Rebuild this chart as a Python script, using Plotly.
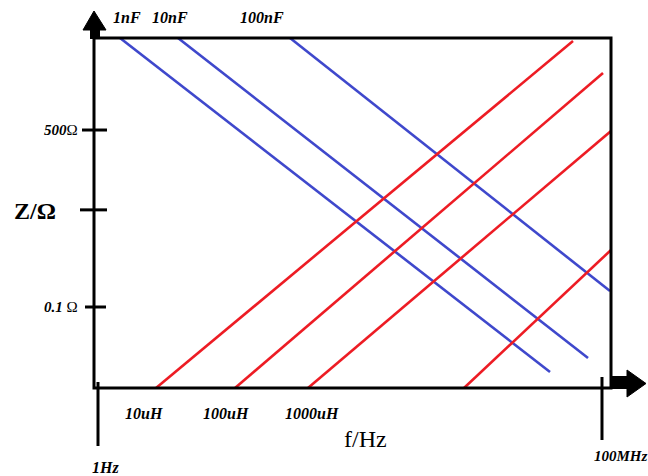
import math
import plotly.graph_objects as go

# ---- data (log10 units: x = log10(f/Hz), y = log10(Z/Ohm)) ----
cap_labels = ["1nF", "10nF", "100nF"]
cap_x0 = [0.349, 1.270, 3.048]
cap_x1 = [7.175, 7.778, 8.127]
cap_y0 = [4.622, 4.622, 4.622]
cap_y1 = [-2.358, -2.066, -0.666]

ind_labels = ["10uH", "100uH", "1000uH", ""]
ind_x0 = [0.921, 2.175, 3.333, 5.810]
ind_x1 = [7.540, 8.016, 8.143, 8.143]
ind_y0 = [-2.693, -2.693, -2.693, -2.693]
ind_y1 = [4.559, 3.890, 2.678, 0.191]

x_tick_vals = [0.0, 8.0]
x_tick_text = ["1Hz", "100MHz"]
y_tick_vals = [math.log10(500), 1.03, math.log10(0.1)]
y_tick_text = ["500Ω", "", "0.1 Ω"]

X_RANGE = [-0.0635, 8.143]
Y_RANGE = [-2.693, 4.622]

BLUE = "#3F48CC"
RED = "#ED1C24"

# plot-area geometry (pixels)
L, R, T, B = 94, 611, 38, 388
W, H = 648, 476


def px(x):
    return (x - L) / (R - L)


def py(y):
    return (B - y) / (B - T)


fig = go.Figure()
for i in range(len(cap_labels)):
    fig.add_trace(go.Scatter(x=[cap_x0[i], cap_x1[i]], y=[cap_y0[i], cap_y1[i]],
                             mode="lines", line=dict(color=BLUE, width=2.6),
                             name=cap_labels[i], showlegend=False, hoverinfo="skip"))
for i in range(len(ind_labels)):
    fig.add_trace(go.Scatter(x=[ind_x0[i], ind_x1[i]], y=[ind_y0[i], ind_y1[i]],
                             mode="lines", line=dict(color=RED, width=2.6),
                             name=ind_labels[i], showlegend=False, hoverinfo="skip"))

shapes = []
blk = dict(color="black", width=3)
# box
shapes.append(dict(type="rect", xref="paper", yref="paper", x0=0, x1=1, y0=0, y1=1,
                   line=blk, layer="above"))
# left axis extension up to arrow
shapes.append(dict(type="line", xref="paper", yref="paper", x0=0, x1=0, y0=1, y1=py(28),
                   line=blk))
# up arrow
up_path = "M {a},{b} L {c},{d} L {e},{f} Z".format(
    a=px(83), b=py(30), c=px(94), d=py(11), e=px(106), f=py(30))
shapes.append(dict(type="path", xref="paper", yref="paper", path=up_path,
                   fillcolor="black", line=dict(color="black", width=1)))
shapes.append(dict(type="rect", xref="paper", yref="paper", x0=px(90), x1=px(100),
                   y0=py(39), y1=py(29), fillcolor="black", line=dict(width=0)))
# right arrow
shapes.append(dict(type="rect", xref="paper", yref="paper", x0=px(611), x1=px(629),
                   y0=py(389), y1=py(376), fillcolor="black", line=dict(width=0)))
rt_path = "M {a},{b} L {c},{d} L {e},{f} Z".format(
    a=px(627), b=py(370), c=px(646), d=py(383.5), e=px(627), f=py(397))
shapes.append(dict(type="path", xref="paper", yref="paper", path=rt_path,
                   fillcolor="black", line=dict(color="black", width=1)))
# x tick marks (long verticals)
shapes.append(dict(type="line", xref="x", yref="paper", x0=x_tick_vals[0], x1=x_tick_vals[0],
                   y0=py(382), y1=py(446), line=blk))
shapes.append(dict(type="line", xref="x", yref="paper", x0=x_tick_vals[1], x1=x_tick_vals[1],
                   y0=py(377), y1=py(440), line=blk))
# y tick marks (crossing axis)
tick_ext = [(82, 107), (80, 107), (85, 106)]
for v, (a, b) in zip(y_tick_vals, tick_ext):
    shapes.append(dict(type="line", xref="paper", yref="y", x0=px(a), x1=px(b),
                       y0=v, y1=v, line=blk))

SERIF = "Liberation Serif, Times New Roman, serif"
ann = []


def label(text, x, y, size=16, xanchor="center"):
    ann.append(dict(text=text, x=px(x), y=py(y), xref="paper", yref="paper",
                    showarrow=False, xanchor=xanchor, yanchor="middle",
                    font=dict(family=SERIF, size=size, color="black")))


label("<b><i>1nF</i></b>", 127, 18)
label("<b><i>10nF</i></b>", 170, 18)
label("<b><i>100nF</i></b>", 262, 18)
label("<b><i>10uH</i></b>", 144, 413)
label("<b><i>100uH</i></b>", 226, 413)
label("<b><i>1000uH</i></b>", 312, 413)
label("f/Hz", 365, 439, size=24)
label("<b><i>" + x_tick_text[0] + "</i></b>", 105, 467)
label("<b><i>" + x_tick_text[1] + "</i></b>", 592, 456, size=15, xanchor="left")
label("<b>Z/Ω</b>", 35, 211, size=24)
label("<b><i>500</i></b>Ω", 80, 130, size=15, xanchor="right")
label("<b><i>0.1</i></b> Ω", 80, 307, size=15, xanchor="right")

fig.update_layout(
    width=W, height=H,
    margin=dict(l=L, r=W - R, t=T, b=H - B, pad=0),
    paper_bgcolor="white", plot_bgcolor="white",
    xaxis=dict(range=X_RANGE, showgrid=False, zeroline=False, showticklabels=False,
               showline=False, ticks="", fixedrange=True),
    yaxis=dict(range=Y_RANGE, showgrid=False, zeroline=False, showticklabels=False,
               showline=False, ticks="", fixedrange=True),
    shapes=shapes, annotations=ann, showlegend=False,
)

fig.write_html("out.html", config={"displayModeBar": False})

# remove the browser's default page margin so the figure sits at (0, 0)
with open("out.html", "r", encoding="utf-8") as fh:
    html = fh.read()
html = html.replace("<head>", "<head><style>html,body{margin:0;padding:0;overflow:hidden;}</style>", 1)
with open("out.html", "w", encoding="utf-8") as fh:
    fh.write(html)
